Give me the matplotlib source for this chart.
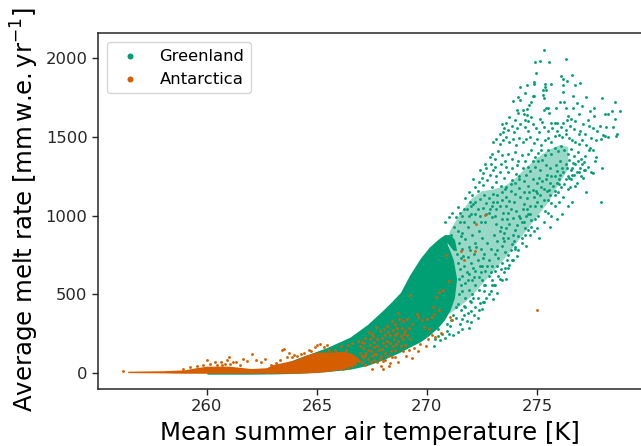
import numpy as np
import matplotlib
matplotlib.use("Agg")
import matplotlib.pyplot as plt

GREEN = "#009E73"
ORANGE = "#D55E00"

# dense Greenland core, read as an envelope (T, lower, upper)
core_t = [260, 262, 263.2, 264.2, 265.4, 266.5, 267.3, 268, 268.4, 268.8, 269.2, 269.7, 270.1, 270.5, 270.8, 271.05, 271.25, 271.35, 271.2, 270.9]
core_lo = [-6, -6, -4, 0, 10, 25, 50, 85, 110, 135, 165, 200, 240, 290, 340, 400, 480, 600, 720, 830]
core_hi = [6, 14, 45, 100, 160, 229, 310, 400, 455, 514, 620, 730, 800, 850, 880, 880, 850, 780, 780, 830]

# speckled Greenland band (T, lower, upper)
band_t = [271.0, 271.5, 272.0, 272.5, 273.0, 273.5, 274.0, 274.5, 275.0, 275.5, 276.0, 276.4]
band_lo = [380, 430, 490, 570, 650, 730, 820, 910, 1000, 1090, 1210, 1300]
band_hi = [900, 1020, 1110, 1160, 1170, 1190, 1240, 1310, 1370, 1420, 1450, 1440]

# dense Antarctic band (T, lower, upper)
ant_t = [256.4, 258, 259, 259.5, 260, 261, 262, 262.7, 263, 264, 264.5, 265, 265.7, 266.2, 266.6, 266.9]
ant_lo = [4, 2, 0, 0, 0, 0, 0, 0, 0, 0, 2, 5, 15, 30, 50, 80]
ant_hi = [13, 16, 22, 35, 45, 45, 30, 35, 55, 85, 115, 135, 135, 140, 125, 95]

green_top = [
 (275.3,2055),(276.33,1996),(274.91,1975),(275.16,1981),(275.57,1977),(274.95,1907),(276.09,1888),(276.6,1892),
 (276.2,1865),(276.35,1854),(274.88,1846),(274.88,1835),(275.38,1839),(275.65,1839),(276.98,1844),(276.2,1829),
 (276.72,1827),(274.57,1827),(274.22,1816),(275.38,1818),(275.29,1795),(275.4,1795),(274.44,1780),(276.2,1787),
 (274.8,1759),(274.88,1759),(275.29,1765),(275.32,1748),(276.65,1757),(277.21,1753),(277.97,1748),(274.15,1753),
 (273.89,1729),(274.25,1734),(274.71,1723),(276.07,1721),(276.22,1721),(276.8,1713),(278.54,1719),(274.65,1702),
 (275.41,1687),(275.51,1687),(275.32,1670),(275.85,1685),(276.3,1685),(276.65,1681),(277.03,1696),(277.6,1681),
 (277.41,1666),(278.39,1666),(278.79,1662),(278.09,1645),(278.21,1645),(274.1,1670),(274.35,1674),(274.53,1679),
 (274.15,1649),(274.42,1643),(274.53,1638),(274.71,1628),(275.54,1649),(276.42,1632),(276.57,1617),(276.92,1643),
 (277.6,1632),(273.74,1624),(274.01,1607),(274.45,1607),(274.6,1602),(275.13,1617),(275.21,1592),(275.66,1590),
 (275.82,1590),(275.93,1590),(276.19,1590),(276.35,1607),(277.33,1607),(278.57,1613),(277.86,1571),(278.12,1564),
 (278.47,1564),(276.75,1600),(277.1,1585),(277.35,1570),(277.55,1555),(277.75,1540),(278.0,1510),(278.1,1505),
 (278.65,1520),(278.6,1505),(278.25,1500),(277.9,1490),(277.7,1480),(277.45,1495),(277.2,1520),(276.95,1540),
]
green_upper_lobe = [
 (273.4,1580),(273.5,1560),(273.6,1590),(273.3,1520),(273.45,1530),(273.7,1545),(273.85,1570),(273.95,1530),
 (274.1,1555),(274.25,1585),(274.45,1565),(274.6,1540),(274.8,1580),(274.95,1555),(275.1,1530),(275.3,1565),
 (275.5,1540),(275.7,1560),(275.9,1540),(276.1,1565),(276.3,1545),(276.5,1570),(276.7,1550),(276.9,1520),
 (273.0,1470),(273.15,1490),(273.3,1455),(273.45,1480),(273.6,1500),(273.75,1470),(273.9,1490),(274.05,1450),
 (274.2,1495),(274.35,1465),(274.5,1485),(274.7,1500),(274.85,1460),(275.0,1490),(275.2,1450),(275.35,1480),
 (275.5,1495),(275.65,1470),(275.8,1505),(276.0,1515),(276.15,1500),(276.3,1520),(276.45,1495),(276.6,1480),
 (276.75,1470),(276.9,1455),(277.05,1480),(277.25,1450),(277.4,1430),(277.55,1420),(277.7,1370),(277.95,1300),
 (272.85,1375),(272.95,1395),(273.1,1360),(273.25,1410),(273.4,1385),(273.55,1350),(273.7,1395),(273.85,1360),
 (274.0,1405),(274.15,1345),(274.3,1385),(274.45,1350),(274.6,1395),(274.75,1420),(274.9,1375),(275.05,1400),
 (275.2,1420),(275.35,1385),(275.5,1415),(275.65,1395),(275.8,1430),(275.95,1410),(276.1,1440),(276.25,1420),
 (276.4,1395),(276.55,1425),(276.7,1380),(276.85,1405),(277.0,1360),(277.15,1340),(277.3,1310),(277.55,1270),
 (272.4,1290),(272.55,1270),(272.7,1300),(272.85,1260),(273.0,1290),(273.15,1250),(273.3,1280),(273.5,1240),
 (273.7,1275),(273.85,1225),(274.05,1265),(274.2,1230),(272.2,1185),(272.1,1230),(272.35,1215),(272.55,1195),
 (272.75,1225),(272.95,1180),(273.15,1215),(273.35,1190),(273.55,1170),(271.75,1110),(271.9,1150),(272.05,1130),
]
green_lower_edge = [
 (271.6,345),(271.8,330),(272.0,395),(272.2,420),(272.4,445),(272.5,405),(272.7,480),(272.9,520),(273.1,560),
 (273.0,470),(272.6,560),(273.3,600),(273.5,640),(273.7,665),(273.9,720),(274.1,745),(273.2,510),(272.3,350),
 (272.0,325),(271.9,290),(271.6,280),(271.4,265),(271.2,245),(271.0,250),(270.8,225),(270.6,210),(270.3,175),
 (272.1,480),(272.6,450),(273.2,680),(273.6,600),(274.0,800),(274.3,830),(274.5,810),(274.7,880),(274.85,900),
 (275.0,925),(275.1,860),(275.3,960),(275.5,1020),(275.65,1000),(275.8,1060),(276.0,1090),(276.2,1120),(276.5,1180),
 (276.8,1210),(277.1,1240),(277.25,1150),(277.9,1090),(276.6,1090),(276.4,1060),(276.15,1010),(275.9,980),(275.6,930),
 (277.45,1280),(277.65,1350),(277.05,1330),(277.35,1420),(276.9,1280),(276.7,1260),(276.45,1240),(277.2,1380),
 (270.2,330),(270.5,280),(270.9,310),(271.3,350),(271.55,400),(271.75,420),(271.95,460),
]
green_mid = [
 (271.6,1000),(271.8,1045),(272.0,1060),(272.2,1090),(272.4,1105),(272.6,1130),(272.8,1110),(273.0,1140),(273.2,1130),
 (273.4,1150),(273.6,1120),(273.8,1160),(274.0,1135),(274.2,1175),(274.4,1150),(274.6,1190),(274.8,1165),(275.0,1210),
 (275.2,1185),(275.4,1230),(275.6,1205),(275.8,1255),(276.0,1230),(276.2,1275),(276.4,1250),(276.6,1300),(276.8,1280),
 (277.0,1250),(277.2,1290),(276.3,1330),(276.05,1350),(275.85,1320),(275.6,1300),(275.4,1325),(275.15,1290),(274.9,1310),
 (274.7,1285),(274.5,1260),(276.45,1355),(276.65,1335),(276.85,1345),(275.25,1355),(275.05,1345),(274.8,1345),
 (271.3,990),(271.5,960),(270.8,960),(271.0,990),(271.15,1015),(271.4,1055),
]
green_speckle_a = [
 (271.1,880),(271.25,930),(271.4,905),(271.55,870),(271.7,960),(271.85,930),(272.0,1010),(272.15,960),(272.3,1040),
 (271.45,830),(271.6,790),(271.75,850),(271.9,800),(272.05,880),(272.2,830),(272.35,900),(272.5,860),(272.65,960),
 (272.8,1020),(272.95,1060),(273.1,1000),(271.4,700),(271.55,730),(271.7,680),(271.85,740),(272.0,700),(272.15,760),
 (272.3,720),(272.45,790),(272.6,760),(272.75,830),(272.9,790),(273.05,880),(273.2,840),(273.35,930),(273.5,890),
 (273.65,980),(273.8,1040),(273.95,1090),(271.45,600),(271.6,620),(271.75,570),(271.9,630),(272.05,590),(272.2,650),
 (272.35,610),(272.5,680),(272.65,650),(272.8,720),(272.95,680),(273.1,760),(273.25,730),(273.4,810),(273.55,770),
 (273.7,860),(273.85,820),(274.0,910),(274.15,870),(274.3,960),(274.45,920),(274.6,1010),(274.75,970),(274.9,1060),
 (271.45,500),(271.6,520),(271.75,480),(271.9,530),(272.05,500),(272.2,560),(272.35,530),(272.5,590),(272.65,560),
 (272.8,620),(272.95,590),(273.1,650),(273.25,620),(273.4,700),(273.55,670),(273.7,750),(273.85,720),(274.0,790),
 (274.15,780),(274.3,860),(274.45,880),(274.6,910),(274.75,930),(274.9,980),(275.05,1000),(275.2,1060),(275.35,1030),
]
green_speckle_b = [
 (275.5,1100),(275.65,1080),(275.8,1130),(275.95,1150),(276.1,1180),(276.25,1200),(276.4,1170),(276.55,1230),(276.75,1190),
 (274.25,1120),(274.4,1075),(274.55,1110),(274.7,1060),(274.85,1120),(275.0,1085),(275.15,1130),(275.3,1100),(275.45,1160),
 (275.6,1130),(275.75,1190),(275.9,1210),(276.05,1260),(273.3,1060),(273.45,1015),(273.6,1060),(273.75,1095),(273.9,985),
 (274.05,1030),(274.2,1000),(274.35,1045),(274.5,1000),(274.65,1150),(274.8,1230),(274.95,1160),(275.1,1240),(275.25,1220),
 (275.45,1260),(275.65,1250),(275.9,1285),(276.15,1300),(276.35,1300),(276.55,1290),(276.75,1330),(276.95,1300),(277.15,1290),
 (273.15,950),(273.3,900),(273.45,860),(273.6,920),(273.75,950),(273.9,880),(274.1,940),(274.25,985),(274.4,960),
 (274.55,1040),(274.7,1010),(275.0,1145),(275.3,1170),(275.55,1165),(275.8,1160),(276.0,1200),(276.3,1230),(276.6,1260),
 (272.4,1000),(272.55,1050),(272.7,1080),(272.85,1040),(273.0,1090),(273.2,1085),(273.4,1100),(273.6,1180),(273.8,1200),
 (274.0,1210),(274.2,1250),(274.4,1220),(274.6,1310),(274.35,1300),(274.1,1320),(273.85,1300),(273.6,1310),(273.35,1330),
 (273.1,1310),(272.9,1330),(272.65,1330),(272.5,1240),(272.3,1160),(272.1,1075),(271.95,1090),(271.7,1040),(271.5,1020),
]
green_speckle_c = [
 (271.35,760),(271.5,660),(271.65,745),(271.8,640),(271.95,785),(272.1,670),(272.25,800),(272.4,680),(272.55,730),
 (271.4,440),(271.55,560),(271.7,430),(271.85,590),(272.0,455),(272.15,610),(272.3,480),(272.45,640),(272.6,520),
 (272.75,680),(272.9,640),(273.05,560),(273.2,780),(273.35,660),(273.5,840),(273.65,720),(273.8,780),(273.95,840),
 (271.3,420),(271.2,370),(271.1,340),(271.05,300),(270.9,270),(270.7,250),(270.5,235),(270.35,215),(271.5,310),
 (271.7,370),(271.85,380),(272.15,370),(272.35,400),(272.55,450),(272.8,500),(272.95,560),(273.4,590),(273.75,690),
 (271.6,890),(271.9,1000),(272.2,1010),(272.45,960),(272.7,1010),(272.95,990),(273.15,1040),(273.4,980),(273.7,1020),
]
ant_points = [
 (256.2,13),(262.07,125),(263.5,157),(263.42,146),(263.73,129),(263.62,104),(261.01,100),(260.01,83),(260.36,72),
 (260.62,72),(260.92,83),(260.82,61),(261.2,72),(261.32,72),(261.62,89),(261.8,78),(262.21,83),(262.63,89),(262.48,72),
 (264.27,125),(263.95,114),(265.01,178),(265.13,184),(264.9,165),(265.3,165),(264.65,148),(265.45,180),
 (272.23,946),(270.85,753),(271.53,777),(272.17,773),(271.67,720),(270.99,588),(270.72,527),(270.53,514),(270.43,485),
 (269.23,497),(270.26,419),(270.55,400),(268.7,383),(269.53,379),(270.32,373),(270.21,360),(270.02,347),(269.6,354),
 (269.76,337),(271.05,358),(271.15,341),(269.88,294),(270.09,279),(270.21,241),(270.64,256),(270.37,227),(270.06,220),
 (269.96,174),(269.68,188),(269.43,161),(269.61,140),(269.32,95),(269.05,108),(268.53,104),(268.67,72),(268.32,62),
 (268.28,47),(268.02,30),(267.91,47),(267.49,30),(267.72,72),(275.0,400),(272.63,1004),
 (269.08,347),(268.9,330),(268.75,345),(268.55,310),(268.4,330),(268.2,300),(268.05,280),(267.85,270),(267.7,295),
 (267.5,250),(267.35,260),(267.2,225),(269.3,315),(269.2,290),(269.0,270),(268.85,290),(268.65,255),(268.45,275),
 (268.3,245),(268.1,240),(267.95,225),(267.75,215),(267.6,200),(269.1,240),(268.9,220),(268.7,205),(268.5,220),
 (268.3,190),(268.15,170),(268.0,190),(267.8,150),(267.6,165),(267.4,180),(267.25,130),(267.15,100),(267.3,90),
 (267.5,110),(267.7,125),(267.9,110),(268.1,130),(268.35,140),(268.55,150),(268.8,170),(269.0,180),(269.2,150),
 (266.9,80),(267.05,70),(267.2,55),(266.75,60),(266.6,45),(266.4,35),(266.2,25),(267.6,85),(267.85,90),(268.1,85),
 (266.6,190),(266.85,205),(267.05,200),(266.4,180),(266.1,170),(265.8,150),
 (266.95,130),(267.1,160),(267.3,150),(267.45,140),(267.6,125),(267.75,175),(267.95,155),(268.2,205),(268.45,175),
 (268.25,110),(268.0,75),(267.45,70),(267.2,115),(267.05,110),(266.95,170),(267.15,190),(267.4,215),(267.55,235),
 (268.65,290),(268.95,250),(268.8,235),(268.55,245),(268.25,265),(268.6,185),(268.4,105),(268.9,140),(269.25,215),
 (258.9,28),(259.25,38),(259.55,48),(259.8,52),(260.15,58),(260.45,50),(260.7,55),(261.05,58),(261.5,50),(262.9,52),
 (263.15,68),(263.3,85),(263.85,100),(264.1,110),(264.4,130),(264.75,140),(266.0,125),(266.3,150),(265.55,150),
]

green_points = np.array(green_top + green_upper_lobe + green_lower_edge + green_mid
                        + green_speckle_a + green_speckle_b + green_speckle_c)
ant_arr = np.array(ant_points)

plt.rcParams["font.family"] = "DejaVu Sans"
plt.rcParams["mathtext.default"] = "regular"
fig = plt.figure(figsize=(6.41, 4.46), dpi=100)
ax = fig.add_axes([98/641, 1-389/446, (641-98)/641, (389-33)/446])

ax.fill_between(band_t, band_lo, band_hi, color=GREEN, alpha=0.4, lw=0, zorder=1)
ax.fill_between(core_t, core_lo, core_hi, color=GREEN, lw=0, zorder=2)
ax.scatter(green_points[:, 0], green_points[:, 1], s=4.2, color=GREEN, lw=0, zorder=3, label="Greenland")
ax.fill_between(ant_t, ant_lo, ant_hi, color=ORANGE, lw=0, zorder=4)
ax.scatter(ant_arr[:, 0], ant_arr[:, 1], s=4.2, color=ORANGE, lw=0, zorder=5, label="Antarctica")

ax.set_xlim(255.05, 279.73)
ax.set_ylim(-100, 2160)
ax.set_xticks([260, 265, 270, 275])
ax.set_yticks([0, 500, 1000, 1500, 2000])
ax.tick_params(labelsize=11.8, colors="#262626", length=4, width=1)
ax.spines["right"].set_visible(False)
for s in ax.spines.values():
    s.set_color("#262626")
    s.set_linewidth(1.1)

ax.set_xlabel("Mean summer air temperature [K]", fontsize=17.6, labelpad=5)
fig.text(25/641, 1-210/446, r"Average melt rate [mm$\,$w.e.$\,$yr$^{-1}$]", fontsize=17.6,
         rotation=90, ha="center", va="center")

ax.legend(loc="upper left", fontsize=11.8, markerscale=2.1, borderaxespad=0.55, framealpha=0.8)
fig.savefig("out.png", dpi=100)
